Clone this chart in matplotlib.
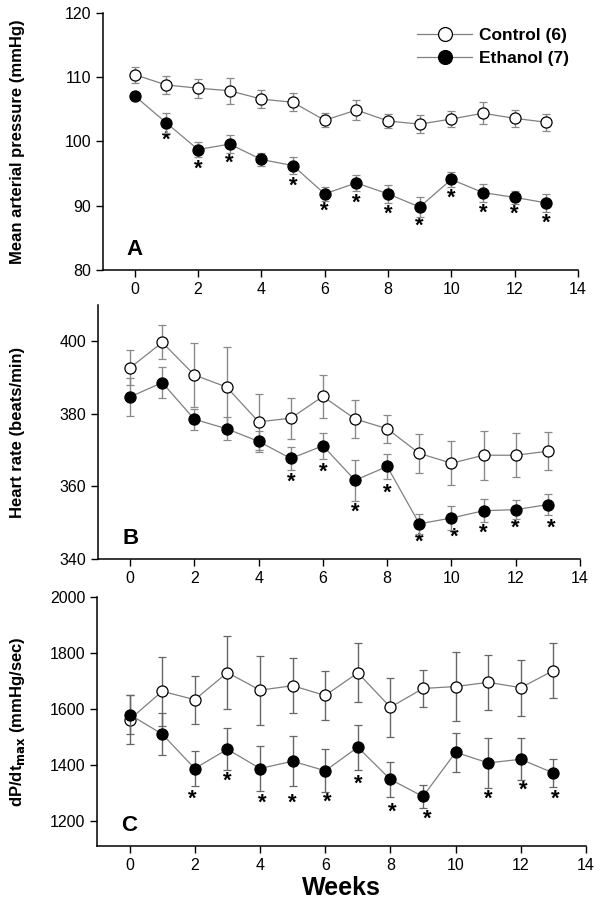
import matplotlib
matplotlib.use("Agg")
import matplotlib.pyplot as plt
from matplotlib.lines import Line2D

plt.rcParams['font.family'] = ['Liberation Sans', 'DejaVu Sans']

weeks = list(range(14))

# Panel A: mean arterial pressure (mmHg)
map_ctrl = [110.4, 108.8, 108.3, 107.9, 106.6, 106.1, 103.3, 104.9, 103.2, 102.7, 103.5, 104.4, 103.6, 103.0]
map_ctrl_err = [1.25, 1.45, 1.5, 2.0, 1.45, 1.4, 1.1, 1.5, 1.15, 1.45, 1.2, 1.75, 1.35, 1.3]
map_eth = [107.1, 102.9, 98.75, 99.6, 97.2, 96.25, 91.85, 93.55, 91.85, 89.8, 94.1, 92.05, 91.3, 90.45]
map_eth_err = [0.6, 1.5, 1.15, 1.4, 1.0, 1.35, 1.05, 1.25, 1.4, 1.6, 1.2, 1.4, 0.95, 1.4]
map_star_x = [1, 2, 3, 5, 6, 7, 8, 9, 10, 11, 12, 13]
map_star_y = [100.2, 95.7, 96.6, 93.1, 89.1, 90.4, 88.7, 86.8, 91.2, 88.9, 88.7, 87.3]

# Panel B: heart rate (beats/min)
hr_ctrl = [392.7, 399.7, 390.7, 387.4, 377.8, 378.8, 384.8, 378.6, 375.9, 369.1, 366.4, 368.6, 368.6, 369.7]
hr_ctrl_err = [4.8, 4.7, 8.7, 10.9, 7.7, 5.6, 6.0, 5.2, 3.9, 5.4, 6.1, 6.8, 6.1, 5.3]
hr_eth = [384.7, 388.6, 378.5, 375.9, 372.4, 367.7, 371.2, 361.7, 365.5, 349.7, 351.3, 353.3, 353.6, 355.0]
hr_eth_err = [5.2, 4.3, 2.9, 3.2, 3.0, 3.2, 3.6, 5.7, 3.5, 2.75, 3.3, 3.2, 2.7, 2.8]
hr_star_x = [5, 6, 7, 8, 9, 10.1, 11, 12, 13.1]
hr_star_y = [361.2, 363.8, 352.9, 358.2, 344.6, 346.1, 347.2, 348.5, 348.5]

# Panel C: dP/dt max (mmHg/sec)
dp_ctrl = [1562, 1663, 1633, 1730, 1667, 1683, 1648, 1729, 1606, 1673, 1680, 1695, 1676, 1737]
dp_ctrl_err = [88, 124, 86, 129, 123, 99, 89, 106, 105, 67, 124, 99, 100, 99]
dp_eth = [1580, 1510, 1387, 1456, 1387, 1413, 1379, 1463, 1348, 1287, 1445, 1407, 1420, 1371]
dp_eth_err = [70, 76, 61, 76, 82, 90, 76, 80, 63, 42, 70, 88, 75, 49]
dp_star_x = [1.93, 3, 4.08, 5, 6.05, 7, 8.05, 9.12, 11, 12.07, 13.05]
dp_star_y = [1276, 1342, 1264, 1264, 1268, 1331, 1230, 1207, 1276, 1308, 1276]

W, H = 602, 909
fig = plt.figure(figsize=(W / 100, H / 100), dpi=100)

def pos(l, r, t, b):
    return [l / W, (H - b) / H, (r - l) / W, (b - t) / H]

axA = fig.add_axes(pos(103, 578, 13, 270))
axB = fig.add_axes(pos(98, 580, 305, 559))
axC = fig.add_axes(pos(97, 586, 597, 846))

line_c = '#808080'
err_c = '#8a8a8a'

def draw(ax, ctrl, cerr, eth, eerr, sx, sy, ylim, yticks, ylabel, letter, errc=err_c):
    ax.errorbar(weeks, ctrl, yerr=cerr, fmt='-o', color=line_c, ecolor=errc,
                elinewidth=1.0, capsize=3, capthick=1.0, lw=0.9,
                mfc='white', mec='black', mew=0.9, ms=8, zorder=3)
    ax.errorbar(weeks, eth, yerr=eerr, fmt='-o', color=line_c, ecolor=errc,
                elinewidth=1.0, capsize=3, capthick=1.0, lw=0.9,
                mfc='black', mec='black', mew=0.9, ms=8, zorder=4)
    for x, y in zip(sx, sy):
        ax.text(x, y, '*', ha='center', va='center', fontsize=16, fontweight='bold')
    ax.set_xlim(-1, 14)
    ax.set_ylim(*ylim)
    ax.set_xticks(range(0, 15, 2))
    ax.set_yticks(yticks)
    for s in ['top', 'right']:
        ax.spines[s].set_visible(False)
    for s in ['left', 'bottom']:
        ax.spines[s].set_linewidth(1.1)
    ax.tick_params(direction='out', length=5, width=1, labelsize=11.5)
    bb = ax.get_position()
    fig.text(18 / W, bb.y0 + bb.height / 2, ylabel, rotation=90, ha='center', va='center',
             fontsize=12, fontweight='bold')
    ax.text(0.05, 0.04, letter, transform=ax.transAxes, fontsize=16, fontweight='bold',
            ha='left', va='bottom')

draw(axA, map_ctrl, map_ctrl_err, map_eth, map_eth_err, map_star_x, map_star_y,
     (80, 120), [80, 90, 100, 110, 120], 'Mean arterial pressure (mmHg)', 'A')
draw(axB, hr_ctrl, hr_ctrl_err, hr_eth, hr_eth_err, hr_star_x, hr_star_y,
     (340, 410), [340, 360, 380, 400], 'Heart rate (beats/min)', 'B')
draw(axC, dp_ctrl, dp_ctrl_err, dp_eth, dp_eth_err, dp_star_x, dp_star_y,
     (1110, 2000), [1200, 1400, 1600, 1800, 2000], 'dP/dt$_{\\mathbf{max}}$ (mmHg/sec)', 'C',
     errc='#666666')

handles = [Line2D([], [], color=line_c, lw=0.9, marker='o', ms=10, mfc='white', mec='black', mew=0.9),
           Line2D([], [], color=line_c, lw=0.9, marker='o', ms=10, mfc='black', mec='black', mew=0.9)]
axA.legend(handles, ['Control (6)', 'Ethanol (7)'], loc='upper right', frameon=False,
           prop={'weight': 'bold', 'size': 12.5}, handlelength=3.2,
           borderaxespad=0.1, handletextpad=0.4, labelspacing=0.45,
           bbox_to_anchor=(1.0, 0.975))

axC.set_xlabel('Weeks', fontsize=18, fontweight='bold', labelpad=2)

fig.savefig('out.png', dpi=100)
